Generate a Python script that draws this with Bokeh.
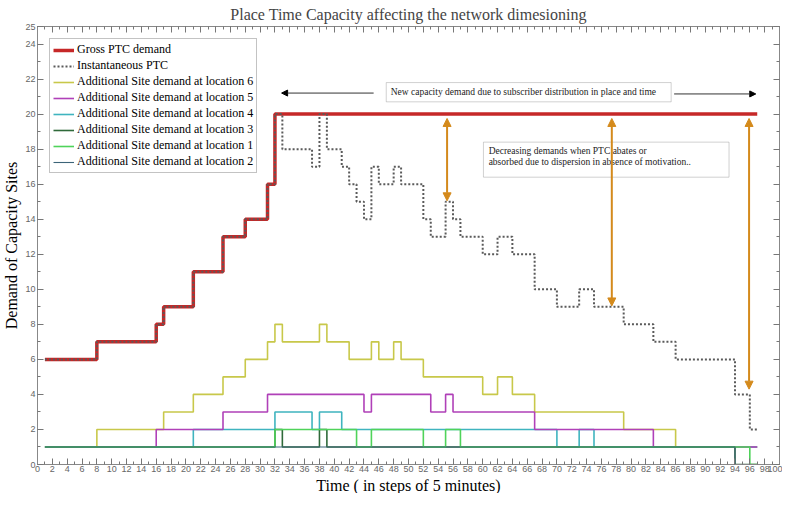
from bokeh.plotting import figure
from bokeh.models import (LinearAxis, FixedTicker, Legend, LegendItem, Arrow,
                          NormalHead, Label, BoxAnnotation, Range1d, Title)
from bokeh.embed import file_html
from bokeh.resources import INLINE

# ---- data (time steps of 5 minutes, number of capacity sites) ----
gross_t = [1, 8, 16, 17, 21, 25, 28, 31, 32, 97]
gross_v = [6, 7, 8, 9, 11, 13, 14, 16, 20, 20]

inst_t = [1, 8, 16, 17, 21, 25, 28, 31, 32, 33, 37, 38, 39, 41, 42, 43, 44, 45,
          46, 48, 49, 52, 53, 55, 56, 57, 60, 62, 64, 67, 70, 73, 75, 79, 83,
          86, 94, 96, 97]
inst_v = [6, 7, 8, 9, 11, 13, 14, 16, 20, 18, 17, 20, 18, 17, 16, 15, 14, 17,
          16, 17, 16, 14, 13, 15, 14, 13, 12, 13, 12, 10, 9, 10, 9, 8, 7,
          6, 4, 2, 2]

loc6_t = [1, 8, 17, 21, 25, 28, 31, 32, 33, 38, 39, 42, 45, 46, 48, 49, 52, 60,
          62, 64, 67, 79, 86, 97]
loc6_v = [1, 2, 3, 4, 5, 6, 7, 8, 7, 8, 7, 6, 7, 6, 7, 6, 5, 4,
          5, 4, 3, 2, 1, 1]

loc5_t = [1, 16, 25, 31, 44, 45, 53, 55, 56, 67, 83, 97]
loc5_v = [1, 2, 3, 4, 3, 4, 3, 4, 3, 2, 1, 1]

loc4_t = [1, 21, 32, 37, 38, 41, 70, 73, 75, 97]
loc4_v = [1, 2, 3, 2, 3, 2, 1, 2, 1, 1]

loc3_t = [1, 32, 33, 38, 39, 94, 97]
loc3_v = [1, 2, 1, 2, 1, 0, 0]

loc1_t = [1, 32, 43, 45, 52, 55, 57, 96, 97]
loc1_v = [1, 2, 1, 2, 1, 2, 1, 0, 0]

loc2_t = [1, 94, 97]
loc2_v = [1, 0, 0]

x_ticks = list(range(0, 101, 2))
x_minor = list(range(0, 101, 1))
y_ticks = list(range(0, 25, 2)) + [25]
y_minor = list(range(0, 26, 1))

SERIF = "Liberation Serif"
TICKFONT = "Liberation Sans"

p = figure(width=782, height=493, x_range=Range1d(0, 100), y_range=Range1d(0, 25),
           output_backend="svg", toolbar_location=None,
           title="Place Time Capacity affecting the network dimesioning",
           y_axis_label="Demand of Capacity Sites")
p.min_border_left = 2
p.min_border_right = 3
p.min_border_top = 2
p.min_border_bottom = 0
p.grid.visible = False
p.outline_line_color = "#888888"
p.title.text_font = SERIF
p.title.text_font_size = "16px"
p.title.text_font_style = "normal"
p.title.align = "center"
p.title.standoff = 7


def style_axis(ax, ticks, minor, labels=True):
    ax.ticker = FixedTicker(ticks=ticks, minor_ticks=minor)
    ax.axis_line_color = "#888888"
    ax.major_tick_line_color = "#777777"
    ax.minor_tick_line_color = "#777777"
    ax.major_tick_in = 6
    ax.major_tick_out = 0
    ax.minor_tick_in = 3
    ax.minor_tick_out = 0
    ax.axis_label_text_font = SERIF
    ax.axis_label_text_font_size = "16px"
    ax.axis_label_text_font_style = "normal"
    ax.axis_label_text_color = "black"
    ax.axis_label_standoff = 2
    ax.major_label_standoff = 2
    ax.major_label_text_font = TICKFONT
    ax.major_label_text_font_size = "9px"
    ax.major_label_text_color = "#666666"
    if not labels:
        ax.major_label_text_font_size = "1px"
        ax.major_label_text_color = None
        ax.major_label_standoff = 0


style_axis(p.xaxis[0], x_ticks, x_minor)
p.xaxis[0].major_label_standoff = 1
style_axis(p.yaxis[0], y_ticks, y_minor)
top = LinearAxis()
style_axis(top, x_ticks, x_minor, labels=False)
p.add_layout(top, "above")
right = LinearAxis()
style_axis(right, y_ticks, y_minor, labels=False)
p.add_layout(right, "right")

# x-axis title placed under the tick labels
xtitle = Title(text="Time ( in steps of 5 minutes)", align="center",
               text_font=SERIF, text_font_size="16px", text_font_style="normal",
               text_color="black", standoff=0)
p.add_layout(xtitle, "below")

# ---- step series ----
r_gross = p.step(gross_t, gross_v, mode="after", line_color="#c62828", line_width=3.5)
r_inst = p.step(inst_t, inst_v, mode="after", line_color="#5a5a5a", line_width=2,
                line_dash="2 2")
r6 = p.step(loc6_t, loc6_v, mode="after", line_color="#c8c84a", line_width=1.6)
r4 = p.step(loc4_t, loc4_v, mode="after", line_color="#3fb4bf", line_width=1.6)
r5 = p.step(loc5_t, loc5_v, mode="after", line_color="#b040b8", line_width=1.6)
r3 = p.step(loc3_t, loc3_v, mode="after", line_color="#2f6a3a", line_width=1.6)
r1 = p.step(loc1_t, loc1_v, mode="after", line_color="#4fd35a", line_width=1.6)
r2 = p.step(loc2_t, loc2_v, mode="after", line_color="#3c6478", line_width=1.1)

legend = Legend(items=[
    LegendItem(label="Gross PTC demand", renderers=[r_gross]),
    LegendItem(label="Instantaneous PTC", renderers=[r_inst]),
    LegendItem(label="Additional Site demand at location 6", renderers=[r6]),
    LegendItem(label="Additional Site demand at location 5", renderers=[r5]),
    LegendItem(label="Additional Site demand at location 4", renderers=[r4]),
    LegendItem(label="Additional Site demand at location 3", renderers=[r3]),
    LegendItem(label="Additional Site demand at location 1", renderers=[r1]),
    LegendItem(label="Additional Site demand at location 2", renderers=[r2]),
], location="top_left")
legend.label_text_font = SERIF
legend.label_text_font_size = "12px"
legend.label_text_color = "black"
legend.glyph_width = 21
legend.glyph_height = 14
legend.label_height = 14
legend.label_standoff = 3
legend.spacing = 1
legend.padding = 3
legend.margin = 12
legend.border_line_color = "#888888"
legend.border_line_width = 1
p.add_layout(legend)

# ---- annotation boxes ----
p.add_layout(BoxAnnotation(left=47.0, right=85.4, bottom=20.7, top=21.8,
                           fill_color="white", fill_alpha=1.0,
                           line_color="#666666", line_width=1))
p.add_layout(Label(x=47.6, y=21.25, text="New capacity demand due to subscriber distribution in place and time",
                   text_font=SERIF, text_font_size="9.5px", text_baseline="middle",
                   text_color="#222222"))
p.add_layout(BoxAnnotation(left=60.1, right=93.2, bottom=16.4, top=18.4,
                           fill_color="white", fill_alpha=1.0,
                           line_color="#666666", line_width=1))
p.add_layout(Label(x=60.8, y=18.2,
                   text="Decreasing demands when PTC abates or\nabsorbed due to dispersion in absence of motivation..",
                   text_font=SERIF, text_font_size="9.5px", text_baseline="top",
                   text_line_height=1.15, text_color="#222222"))

# ---- arrows ----
p.add_layout(Arrow(end=NormalHead(size=6, fill_color="black", line_color="black"),
                   x_start=45.3, y_start=21.2, x_end=32.9, y_end=21.2,
                   line_color="#333333", line_width=1))
p.add_layout(Arrow(end=NormalHead(size=6, fill_color="black", line_color="black"),
                   x_start=85.8, y_start=21.15, x_end=96.8, y_end=21.15,
                   line_color="#333333", line_width=1))

ORANGE = "#d48a1c"
for xa, yb in [(55.2, 15.05), (77.4, 9.05), (95.9, 4.3)]:
    p.add_layout(Arrow(start=NormalHead(size=8, fill_color=ORANGE, line_color=ORANGE),
                       end=NormalHead(size=8, fill_color=ORANGE, line_color=ORANGE),
                       x_start=xa, y_start=19.75, x_end=xa, y_end=yb,
                       line_color=ORANGE, line_width=2))

open("out.html", "w").write(file_html(p, INLINE))
